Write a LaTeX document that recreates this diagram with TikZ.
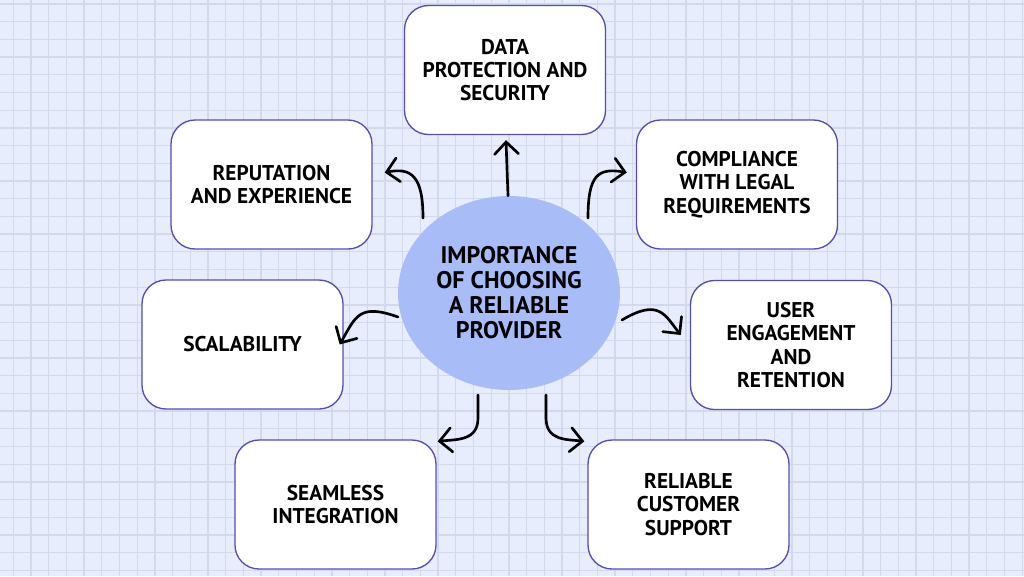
\documentclass[tikz,border=0pt]{standalone}
\usepackage{fontspec}
\setmainfont{PT Sans}
\usetikzlibrary{arrows.meta,calc,shapes.geometric}
\definecolor{bg}{RGB}{232,237,253}
\definecolor{gridc}{RGB}{211,217,236}
\definecolor{ellc}{RGB}{168,188,247}
\definecolor{boxc}{RGB}{88,76,178}
\tikzset{
  box/.style={draw=boxc, line width=1pt, fill=white, rounded corners=18pt,
    minimum width=150.75pt, minimum height=96.75pt, inner sep=0pt, align=center,
    font=\bfseries\fontsize{16}{17.5}\selectfont},
  hub/.style={ellipse, fill=ellc, minimum width=166.5pt, minimum height=145.5pt,
    inner sep=0pt, align=center, font=\bfseries\fontsize{18}{18.75}\selectfont},
  conn/.style={line width=2pt, black, line cap=round, line join=round,
    -{Straight Barb[length=9pt,width=18pt,line cap=round]}},
  gridline/.style={gridc, line width=1pt}
}
\begin{document}
\begin{tikzpicture}[x=0.75pt,y=-0.75pt]
\useasboundingbox (0,0) rectangle (1024,576);
\fill[bg] (0,0) rectangle (1024,576);
\foreach \i in {0,...,57} \draw[gridline] ({13.3+17.7*\i},0) -- ++(0,576);
\foreach \j in {0,...,32} \draw[gridline] (0,{4+17.7*\j}) -- ++(1024,0);

\node[hub] (c) at (509,293) {IMPORTANCE\\OF CHOOSING\\A RELIABLE\\PROVIDER};

\node[box] (top)  at (505,70)    {DATA\\PROTECTION AND\\SECURITY};
\node[box] (rep)  at (271.5,184.5) {REPUTATION\\AND EXPERIENCE};
\node[box] (comp) at (737,184.5) {COMPLIANCE\\WITH LEGAL\\REQUIREMENTS};
\node[box] (scal) at (242.5,344.5) {SCALABILITY};
\node[box] (user) at (791,345)   {USER\\ENGAGEMENT\\AND\\RETENTION};
\node[box] (seam) at (335.5,504.5) {SEAMLESS\\INTEGRATION};
\node[box] (supp) at (688.5,504.5) {RELIABLE\\CUSTOMER\\SUPPORT};

\draw[conn] ($(c.north)+(-1,0)$) -- ($(top.south)+(1,5)$);
\draw[conn] ($(c)+(-86,-75)$) .. controls ($(c)+(-86,-118)$) and ($(rep.east)+(38,-17)$) .. ($(rep.east)+(12,-12)$);
\draw[conn] ($(c)+(79,-75)$) .. controls ($(c)+(79,-118)$) and ($(comp.west)+(-38,-17)$) .. ($(comp.west)+(-9,-12)$);
\draw[conn] ($(c)+(-111,24)$) .. controls ($(c)+(-150,10)$) and ($(scal.east)+(12,-28)$) .. ($(scal.east)+(-4,0)$);
\draw[conn] ($(c)+(113,27)$) .. controls ($(c)+(150,5)$) and ($(user.west)+(-25,-30)$) .. ($(user.west)+(-9,-10)$);
\draw[conn] ($(c)+(-31,102)$) -- ($(c)+(-31,125)$) .. controls ($(c)+(-31,148)$) and ($(seam.north east)+(20,0)$) .. ($(seam.north east)+(1,2)$);
\draw[conn] ($(c)+(37,102)$) -- ($(c)+(37,125)$) .. controls ($(c)+(37,148)$) and ($(supp.north west)+(-20,0)$) .. ($(supp.north west)+(-3,2)$);
\end{tikzpicture}
\end{document}
